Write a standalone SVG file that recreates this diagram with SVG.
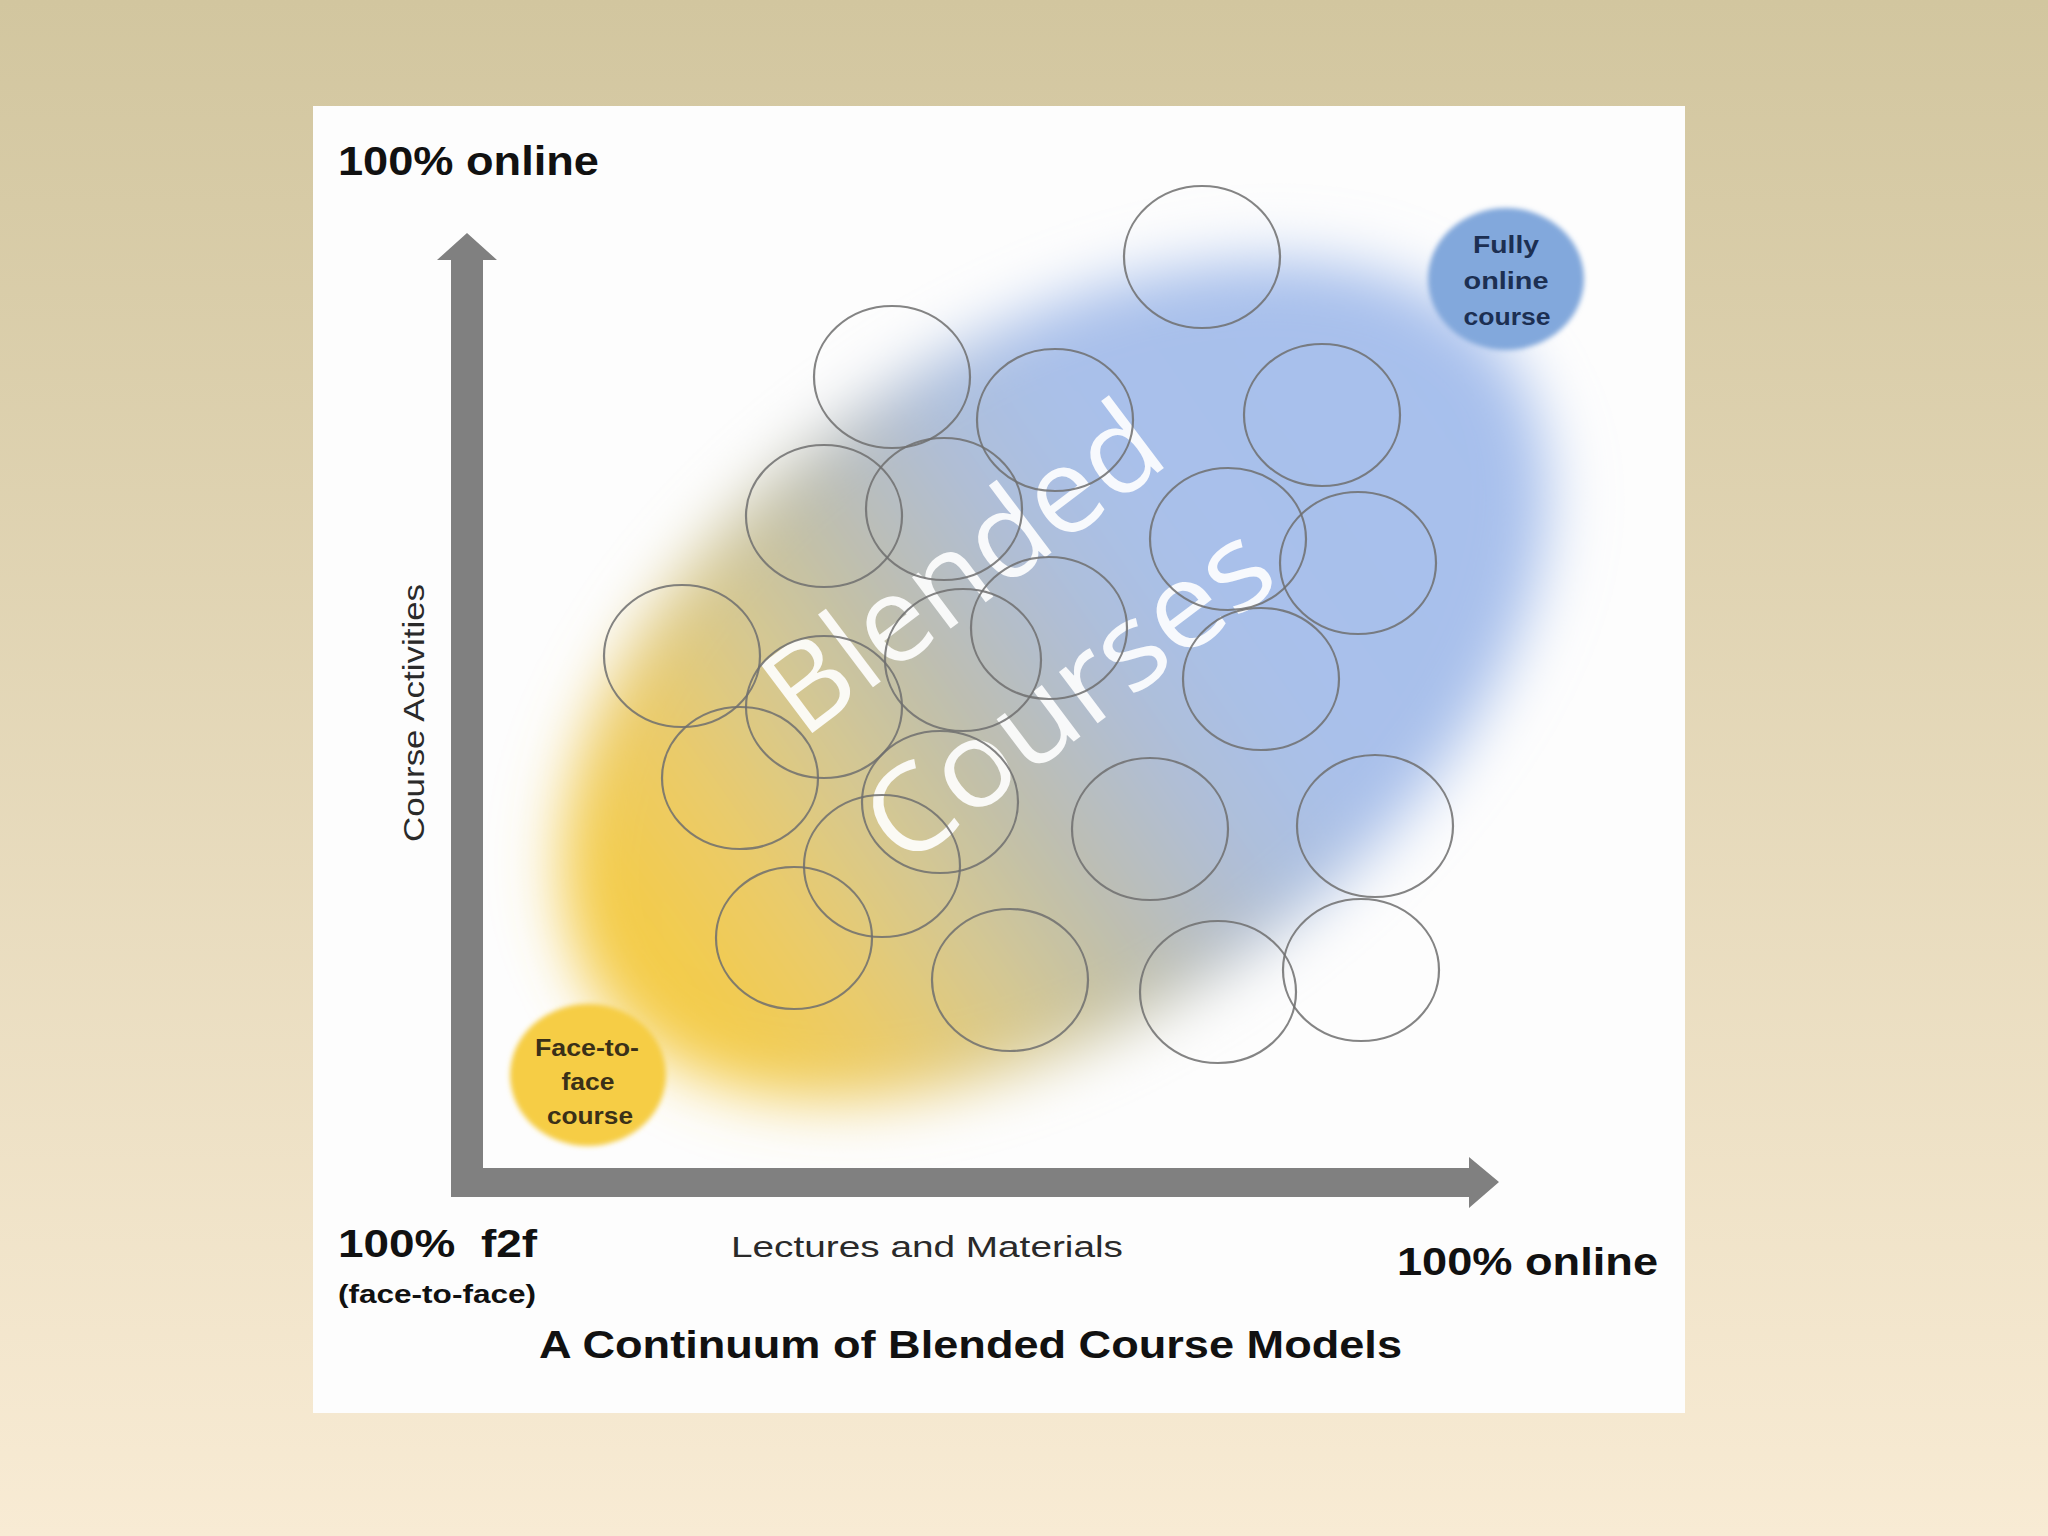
<svg xmlns="http://www.w3.org/2000/svg" width="2048" height="1536" viewBox="0 0 2048 1536">
  <defs>
    <linearGradient id="bg" x1="0" y1="0" x2="0" y2="1">
      <stop offset="0" stop-color="#d2c69f"/>
      <stop offset="1" stop-color="#f8ebd4"/>
    </linearGradient>
    <linearGradient id="blobGrad" x1="0" y1="0" x2="1" y2="0">
      <stop offset="0.06" stop-color="#f4cc48"/>
      <stop offset="0.18" stop-color="#ebcb68"/>
      <stop offset="0.30" stop-color="#d5c892"/>
      <stop offset="0.40" stop-color="#c0bfaa"/>
      <stop offset="0.48" stop-color="#b6bdc4"/>
      <stop offset="0.56" stop-color="#adbfdc"/>
      <stop offset="0.66" stop-color="#a9c0ea"/>
      <stop offset="1" stop-color="#a7c0ed"/>
    </linearGradient>
    <filter id="blurBig" x="-25%" y="-25%" width="150%" height="150%">
      <feGaussianBlur stdDeviation="30"/>
    </filter>
    <filter id="blurSmall" x="-10%" y="-10%" width="120%" height="120%">
      <feGaussianBlur stdDeviation="2.5"/>
    </filter>
    <style>
      .ring { fill: none; stroke: #6e6e6e; stroke-opacity: 0.85; stroke-width: 2.2; }
      .lbl { font-family: "Liberation Sans", Arial, sans-serif; font-weight: bold; fill: #111; }
      .reg { font-family: "Liberation Sans", Arial, sans-serif; fill: #2a2a2a; }
      .big { font-family: "Open Sans", "Liberation Sans", sans-serif; font-weight: 400; font-size: 120px; fill: #ffffff; fill-opacity: 0.9; }
      .navy { font-family: "Liberation Sans", Arial, sans-serif; font-weight: bold; font-size: 24px; fill: #1c2f52; text-anchor: middle; }
      .brown { font-family: "Liberation Sans", Arial, sans-serif; font-weight: bold; font-size: 24px; fill: #3a3018; text-anchor: middle; }
    </style>
  </defs>

  <rect x="0" y="0" width="2048" height="1536" fill="url(#bg)"/>
  <rect id="panel" x="313" y="106" width="1372" height="1307" fill="#fdfdfd"/>

  <g id="blob">
    <ellipse cx="1055" cy="680" rx="555" ry="335" transform="rotate(-35 1055 680)" fill="url(#blobGrad)" filter="url(#blurBig)"/>
  </g>

  <g id="blended-label">
    <text class="big" transform="translate(803,740) rotate(-37)" textLength="462" lengthAdjust="spacingAndGlyphs">Blended</text>
    <text class="big" transform="translate(903,870) rotate(-37)" textLength="476" lengthAdjust="spacingAndGlyphs">Courses</text>
  </g>

  <g id="blended-courses">
    <g id="bc1"><ellipse class="ring" cx="1202" cy="257" rx="78" ry="71"/></g>
    <g id="bc2"><ellipse class="ring" cx="892" cy="377" rx="78" ry="71"/></g>
    <g id="bc3"><ellipse class="ring" cx="1055" cy="420" rx="78" ry="71"/></g>
    <g id="bc4"><ellipse class="ring" cx="1322" cy="415" rx="78" ry="71"/></g>
    <g id="bc5"><ellipse class="ring" cx="824" cy="516" rx="78" ry="71"/></g>
    <g id="bc6"><ellipse class="ring" cx="944" cy="509" rx="78" ry="71"/></g>
    <g id="bc7"><ellipse class="ring" cx="1228" cy="539" rx="78" ry="71"/></g>
    <g id="bc8"><ellipse class="ring" cx="1358" cy="563" rx="78" ry="71"/></g>
    <g id="bc9"><ellipse class="ring" cx="682" cy="656" rx="78" ry="71"/></g>
    <g id="bc10"><ellipse class="ring" cx="1049" cy="628" rx="78" ry="71"/></g>
    <g id="bc11"><ellipse class="ring" cx="963" cy="660" rx="78" ry="71"/></g>
    <g id="bc12"><ellipse class="ring" cx="824" cy="707" rx="78" ry="71"/></g>
    <g id="bc13"><ellipse class="ring" cx="1261" cy="679" rx="78" ry="71"/></g>
    <g id="bc14"><ellipse class="ring" cx="740" cy="778" rx="78" ry="71"/></g>
    <g id="bc15"><ellipse class="ring" cx="940" cy="802" rx="78" ry="71"/></g>
    <g id="bc16"><ellipse class="ring" cx="1150" cy="829" rx="78" ry="71"/></g>
    <g id="bc17"><ellipse class="ring" cx="1375" cy="826" rx="78" ry="71"/></g>
    <g id="bc18"><ellipse class="ring" cx="882" cy="866" rx="78" ry="71"/></g>
    <g id="bc19"><ellipse class="ring" cx="794" cy="938" rx="78" ry="71"/></g>
    <g id="bc20"><ellipse class="ring" cx="1010" cy="980" rx="78" ry="71"/></g>
    <g id="bc21"><ellipse class="ring" cx="1218" cy="992" rx="78" ry="71"/></g>
    <g id="bc22"><ellipse class="ring" cx="1361" cy="970" rx="78" ry="71"/></g>
  </g>

  <g id="fully-online">
    <ellipse cx="1506" cy="279" rx="78" ry="71" fill="#82a8dc" filter="url(#blurSmall)"/>
    <text class="navy" x="1506" y="253" textLength="66" lengthAdjust="spacingAndGlyphs">Fully</text>
    <text class="navy" x="1506" y="289" textLength="85" lengthAdjust="spacingAndGlyphs">online</text>
    <text class="navy" x="1507" y="325" textLength="87" lengthAdjust="spacingAndGlyphs">course</text>
  </g>

  <g id="face-to-face">
    <ellipse cx="588" cy="1075" rx="78" ry="71" fill="#f6cd45" filter="url(#blurSmall)"/>
    <text class="brown" x="587" y="1056" textLength="104" lengthAdjust="spacingAndGlyphs">Face-to-</text>
    <text class="brown" x="588" y="1090" textLength="53" lengthAdjust="spacingAndGlyphs">face</text>
    <text class="brown" x="590" y="1124" textLength="86" lengthAdjust="spacingAndGlyphs">course</text>
  </g>

  <g id="connectors">
    <path id="axes" d="M437,260 L467,233 L497,260 L483,260 L483,1168 L1469,1168 L1469,1157 L1499,1182 L1469,1208 L1469,1197 L451,1197 L451,260 Z" fill="#808080"/>
  </g>

  <g id="labels">
    <text class="lbl" x="338" y="175" font-size="40" textLength="261" lengthAdjust="spacingAndGlyphs">100% online</text>
    <text class="reg" transform="translate(424,713) rotate(-90)" text-anchor="middle" font-size="30" textLength="258" lengthAdjust="spacingAndGlyphs">Course Activities</text>
    <text class="lbl" x="338" y="1257" font-size="38" xml:space="preserve" textLength="199" lengthAdjust="spacingAndGlyphs">100%  f2f</text>
    <text class="lbl" x="338" y="1303" font-size="26" textLength="198" lengthAdjust="spacingAndGlyphs">(face-to-face)</text>
    <text class="reg" x="731" y="1257" font-size="30" textLength="392" lengthAdjust="spacingAndGlyphs">Lectures and Materials</text>
    <text class="lbl" x="1397" y="1275" font-size="38" textLength="261" lengthAdjust="spacingAndGlyphs">100% online</text>
    <text class="lbl" x="539" y="1358" font-size="38" textLength="863" lengthAdjust="spacingAndGlyphs">A Continuum of Blended Course Models</text>
  </g>
</svg>
